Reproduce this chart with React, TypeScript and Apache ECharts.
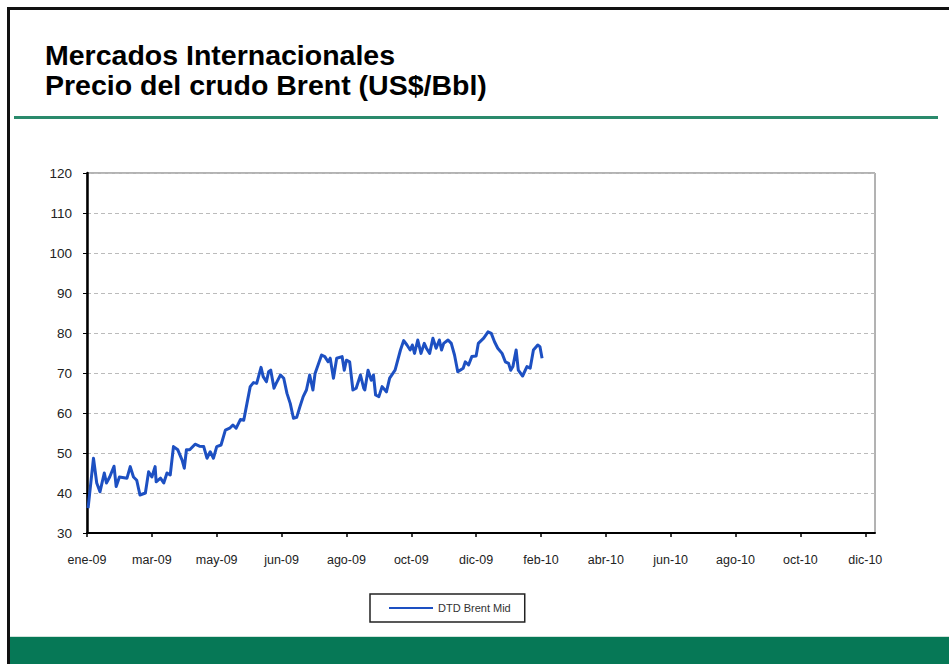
import React, { useEffect, useRef } from "react";
import * as echarts from "echarts";

// x positions are days since 1 Jan 2009
const days = [
  1, 6, 9, 12, 16, 18, 21, 25, 27, 30, 37, 40, 43, 46, 49, 54, 57, 60, 63, 64, 68, 71, 74, 77,
  80, 84, 88, 90, 92, 95, 100, 104, 108, 111, 114, 117, 120, 124, 128, 132, 135, 138, 142, 145,
  148, 151, 154, 157, 161, 163, 166, 168, 170, 173, 175, 179, 182, 185, 188, 191, 194, 197, 200,
  203, 206, 209, 211, 217, 220, 223, 225, 228, 231, 236, 238, 240, 243, 246, 249, 253, 256, 257,
  260, 263, 265, 267, 270, 273, 277, 280, 285, 290, 293, 296, 299, 301, 303, 306, 309, 312, 314,
  317, 320, 323, 326, 328, 330, 334, 337, 340, 343, 348, 350, 353, 356, 360, 362, 367, 371, 374,
  377, 380, 384, 387, 390, 392, 394, 397, 399, 403, 407, 410, 413, 417, 419, 421,
];
const prices = [
  36.2, 48.7, 42.5, 40.3, 45, 42.5, 44, 46.7, 41.6, 44, 43.7, 46.6, 44, 43.2, 39.5, 40, 45.3, 44,
  46.6, 42.8, 43.7, 42.5, 45, 44.5, 51.6, 50.8, 48.2, 46.2, 50.8, 50.8, 52.2, 51.7, 51.6, 48.7,
  50.3, 48.7, 51.6, 52, 55.7, 56.2, 57, 56.2, 58.4, 58.2, 62.4, 66.6, 67.6, 67.4, 71.4, 69.1,
  67.8, 70.3, 70.7, 66.2, 67.4, 69.5, 68.7, 64.9, 62.4, 58.7, 58.9, 61.6, 64.1, 65.75, 69.5,
  65.75, 69.9, 74.5, 74.1, 72.8, 73.7, 68.7, 73.7, 74.1, 70.7, 73.2, 72.8, 65.75, 66.2, 69.5,
  66.2, 65.75, 70.7, 68.2, 69.5, 64.5, 64.1, 66.6, 65.3, 68.7, 70.7, 75.75, 78.1, 77, 75.75, 77,
  74.9, 78.25, 74.9, 77.4, 76.2, 74.9, 78.7, 76.2, 78.25, 75.75, 77.4, 78.25, 77.4, 74.5, 70.3,
  71.2, 72.8, 72, 74.1, 74.25, 77.4, 78.7, 80.3, 79.9, 77.8, 76.2, 74.9, 72.8, 72.4, 70.7, 71.6,
  75.75, 70.7, 69.25, 71.6, 71.2, 75.75, 77, 76.6, 73.7,
];
const tickLabels = [
  "ene-09", "mar-09", "may-09", "jun-09", "ago-09", "oct-09", "dic-09",
  "feb-10", "abr-10", "jun-10", "ago-10", "oct-10", "dic-10",
];
const seriesName = "DTD Brent Mid";
const titleLines = ["Mercados Internacionales", "Precio del crudo Brent (US$/Bbl)"];

export default function App() {
  const ref = useRef<HTMLDivElement>(null);
  useEffect(() => {
    if (!ref.current) return;
    const chart = echarts.init(ref.current, null, { renderer: "svg" });
    const font = "'Liberation Sans', Arial, sans-serif";
    chart.setOption({
      animation: false,
      backgroundColor: "#fff",
      textStyle: { fontFamily: font },
      grid: {
        left: 87,
        top: 173,
        right: 74,
        bottom: 131,
        show: true,
        borderColor: "#666",
        borderWidth: 1,
        backgroundColor: "transparent",
      },
      xAxis: {
        type: "value",
        min: 0,
        max: 729,
        interval: 60,
        axisLine: { show: true, lineStyle: { color: "#000", width: 2 } },
        axisTick: { show: true, length: 4, lineStyle: { color: "#000", width: 1.5 } },
        splitLine: { show: false },
        axisLabel: {
          margin: 20,
          fontSize: 12.5,
          color: "#222",
          fontFamily: font,
          showMaxLabel: false,
          formatter: (v: number) => {
            const i = v / 60;
            return Number.isInteger(i) && tickLabels[i] ? tickLabels[i] : "";
          },
        },
      },
      yAxis: {
        type: "value",
        min: 30,
        max: 120,
        interval: 10,
        axisLine: { show: true, lineStyle: { color: "#000", width: 2.5 } },
        axisTick: { show: true, length: 4, lineStyle: { color: "#000" } },
        splitLine: { show: true, lineStyle: { color: "#bbb", type: [4, 3], width: 1 } },
        axisLabel: { margin: 15, fontSize: 13.5, color: "#222", fontFamily: font },
      },
      legend: {
        left: 370,
        top: 594,
        orient: "horizontal",
        icon: "rect",
        padding: [7, 14, 7, 19],
        itemWidth: 44,
        itemHeight: 2,
        itemGap: 5,
        borderColor: "#222",
        borderWidth: 1.5,
        textStyle: { fontSize: 11, color: "#333", fontFamily: font, lineHeight: 14 },
        data: [seriesName],
      },
      series: [
        {
          name: seriesName,
          type: "line",
          symbol: "none",
          lineStyle: { color: "#1d50c2", width: 3, join: "round" },
          itemStyle: { color: "#1d50c2" },
          data: days.map((d, i) => [d, prices[i]]),
        },
      ],
      graphic: [
        { type: "rect", shape: { x: 7, y: 7, width: 945, height: 3 }, style: { fill: "#111" } },
        { type: "rect", shape: { x: 7, y: 7, width: 3, height: 660 }, style: { fill: "#111" } },
        { type: "rect", shape: { x: 10, y: 636, width: 939, height: 1 }, style: { fill: "#cfe3da" } },
        { type: "rect", shape: { x: 10, y: 637, width: 939, height: 27 }, style: { fill: "#067856" } },
        { type: "rect", shape: { x: 14, y: 116, width: 924, height: 3 }, style: { fill: "#2a8a6c" } },
        {
          type: "text",
          left: 45,
          top: 40,
          style: {
            text: titleLines.join("\n"),
            fontSize: 28.5,
            lineHeight: 30,
            fontWeight: "bold",
            fill: "#000",
            fontFamily: font,
          },
        },
      ],
    });
    return () => chart.dispose();
  }, []);
  return (
    <div
      ref={ref}
      style={{ position: "absolute", left: 0, top: 0, width: 949, height: 664 }}
    />
  );
}
